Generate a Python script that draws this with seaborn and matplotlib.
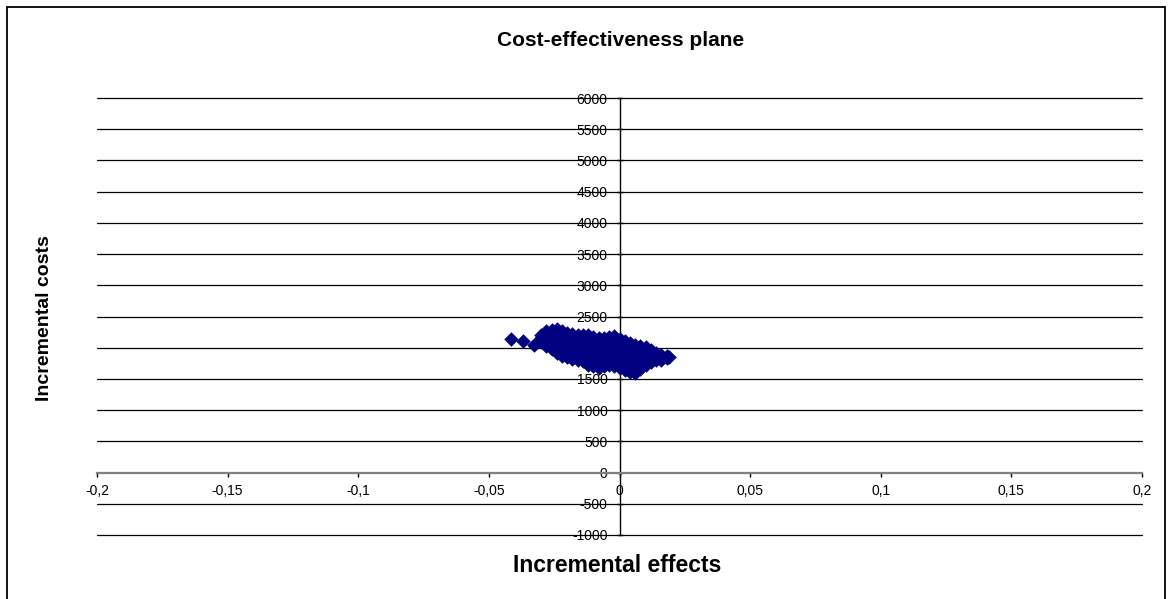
import matplotlib
matplotlib.use('Agg')
import pandas as pd
from matplotlib import pyplot as plt
from matplotlib.patches import Rectangle
import seaborn as sns

effects = [-0.0416, -0.0368, -0.0329,
           -0.030, -0.030, -0.030,
           -0.028, -0.028, -0.028, -0.028,
           -0.026, -0.026, -0.026, -0.026, -0.026,
           -0.024, -0.024, -0.024, -0.024, -0.024, -0.024,
           -0.022, -0.022, -0.022, -0.022, -0.022, -0.022,
           -0.020, -0.020, -0.020, -0.020, -0.020, -0.020,
           -0.018, -0.018, -0.018, -0.018, -0.018, -0.018,
           -0.016, -0.016, -0.016, -0.016, -0.016, -0.016,
           -0.014, -0.014, -0.014, -0.014, -0.014, -0.014,
           -0.012, -0.012, -0.012, -0.012, -0.012, -0.012, -0.012,
           -0.010, -0.010, -0.010, -0.010, -0.010, -0.010, -0.010,
           -0.008, -0.008, -0.008, -0.008, -0.008, -0.008, -0.008,
           -0.006, -0.006, -0.006, -0.006, -0.006, -0.006, -0.006,
           -0.004, -0.004, -0.004, -0.004, -0.004, -0.004, -0.004,
           -0.002, -0.002, -0.002, -0.002, -0.002, -0.002, -0.002,
           0.000, 0.000, 0.000, 0.000, 0.000, 0.000, 0.000,
           0.002, 0.002, 0.002, 0.002, 0.002, 0.002, 0.002,
           0.004, 0.004, 0.004, 0.004, 0.004, 0.004, 0.004,
           0.006, 0.006, 0.006, 0.006, 0.006, 0.006, 0.006,
           0.008, 0.008, 0.008, 0.008, 0.008, 0.008,
           0.010, 0.010, 0.010, 0.010, 0.010,
           0.012, 0.012, 0.012, 0.012,
           0.014, 0.014, 0.014,
           0.016, 0.016, 0.016,
           0.018, 0.018,
           0.019]
costs = [2143, 2106, 2037,
         2210, 2150, 2090,
         2260, 2180, 2100, 2030,
         2290, 2210, 2130, 2050, 1980,
         2300, 2220, 2140, 2060, 1980, 1910,
         2270, 2190, 2110, 2030, 1950, 1870,
         2240, 2160, 2080, 2000, 1920, 1850,
         2220, 2140, 2060, 1980, 1900, 1820,
         2210, 2130, 2050, 1970, 1890, 1800,
         2200, 2120, 2040, 1960, 1880, 1790,
         2200, 2120, 2040, 1960, 1880, 1800, 1730,
         2170, 2090, 2010, 1930, 1850, 1770, 1700,
         2150, 2070, 1990, 1910, 1830, 1750, 1680,
         2160, 2080, 2000, 1920, 1840, 1760, 1700,
         2170, 2090, 2010, 1930, 1850, 1770, 1720,
         2180, 2100, 2020, 1940, 1860, 1780, 1710,
         2140, 2060, 1980, 1900, 1820, 1740, 1680,
         2100, 2020, 1940, 1860, 1780, 1700, 1640,
         2070, 1990, 1910, 1830, 1750, 1670, 1610,
         2040, 1960, 1880, 1800, 1720, 1640, 1590,
         2030, 1950, 1870, 1790, 1720, 1660,
         2010, 1930, 1850, 1780, 1730,
         1960, 1890, 1820, 1770,
         1920, 1860, 1800,
         1890, 1840, 1810,
         1870, 1830,
         1850]

x_ticks = [-0.2, -0.15, -0.1, -0.05, 0, 0.05, 0.1, 0.15, 0.2]
x_labels = ['-0,2', '-0,15', '-0,1', '-0,05', '0', '0,05', '0,1', '0,15', '0,2']
y_ticks = [-1000, -500, 0, 500, 1000, 1500, 2000, 2500, 3000, 3500, 4000, 4500, 5000, 5500, 6000]

df = pd.DataFrame({'effects': effects, 'costs': costs})

sns.set_style('white')
plt.rcParams['font.family'] = ['Liberation Sans', 'DejaVu Sans']
plt.rcParams['text.color'] = 'black'
plt.rcParams['xtick.color'] = 'black'
plt.rcParams['ytick.color'] = 'black'

fig = plt.figure(figsize=(11.74, 5.99), dpi=100)
ax = fig.add_axes([97/1174, 1 - 535/599, 1045/1174, 437/599])

# excel style horizontal gridlines, drawn under the cloud
for v in y_ticks:
    if v != 0:
        ax.axhline(v, color='black', linewidth=0.9, zorder=1, clip_on=False)

sns.scatterplot(x='effects', y='costs', data=df, marker='D', s=55,
                color='#000080', edgecolor='#000080', linewidth=0, ax=ax, zorder=3)

ax.set_xlim(-0.2, 0.2)
ax.set_ylim(-1000, 6000)
ax.set_xticks(x_ticks)
ax.set_xticklabels(x_labels, family='DejaVu Sans', fontsize=8)
ax.set_yticks(y_ticks)
ax.set_yticklabels([str(v) for v in y_ticks], family='DejaVu Sans', fontsize=8.5)
ax.grid(False)

for side in ['top', 'right']:
    ax.spines[side].set_visible(False)
ax.spines['left'].set_position(('data', 0))
ax.spines['bottom'].set_position(('data', 0))
ax.spines['left'].set_color('black')
ax.spines['left'].set_linewidth(1.0)
ax.spines['bottom'].set_color('#808080')
ax.spines['bottom'].set_linewidth(1.6)

ax.tick_params(axis='y', direction='inout', length=5, width=1, color='black', pad=6, left=True)
ax.tick_params(axis='x', direction='out', length=3, width=1, color='black', pad=5, bottom=True)
ax.set_xlabel('')
ax.set_ylabel('')

fig.text(621/1174, 1 - 40/599, 'Cost-effectiveness plane', ha='center', va='center',
         fontsize=15, fontweight='bold')
fig.text(617/1174, 1 - 565/599, 'Incremental effects', ha='center', va='center',
         fontsize=16.5, fontweight='bold')
fig.text(45/1174, 1 - 318/599, 'Incremental costs', ha='center', va='center',
         rotation=90, fontsize=14, fontweight='bold')

fig.patches.append(Rectangle((7/1174, -0.1), 1158/1174, 1 - 7/599 + 0.1,
                             transform=fig.transFigure, fill=False,
                             edgecolor='black', linewidth=1.3))

plt.savefig('out.png', dpi=100)
